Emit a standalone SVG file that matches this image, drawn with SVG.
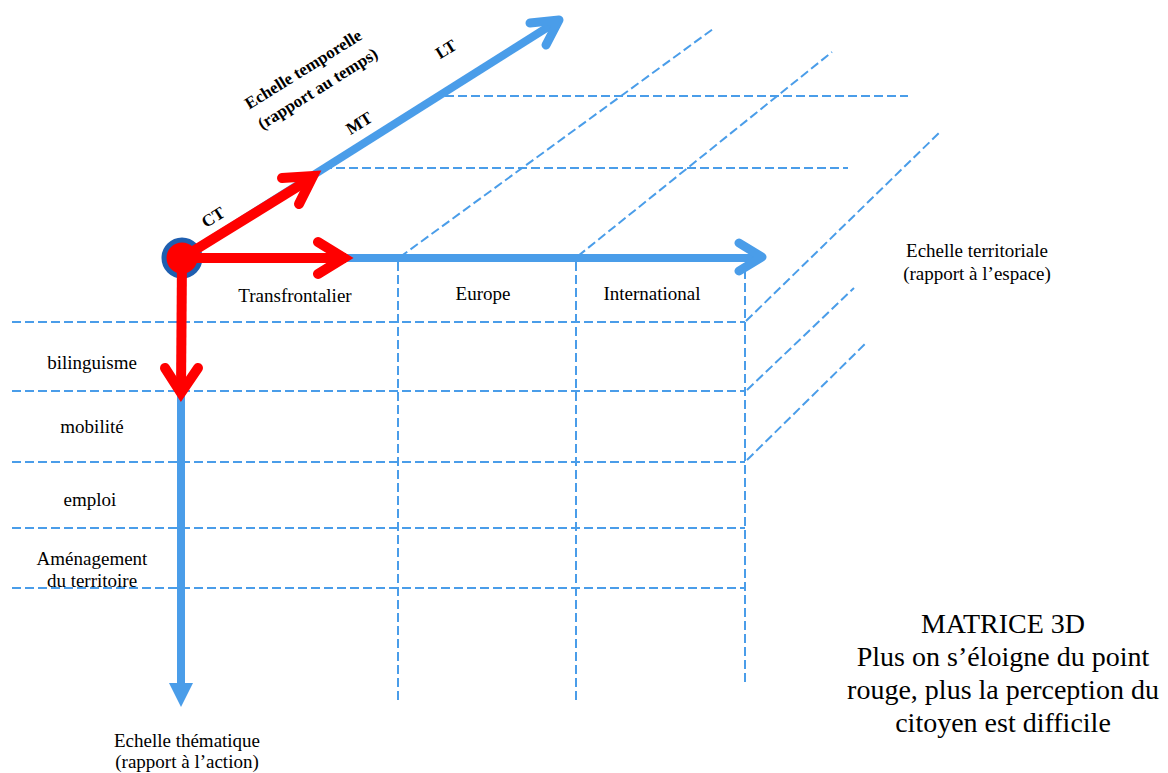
<svg xmlns="http://www.w3.org/2000/svg" width="1168" height="773" viewBox="0 0 1168 773">
<style>
.t{font-family:"Liberation Serif","Times New Roman",serif;font-size:19px;fill:#000;text-anchor:middle}
.b{font-family:"Liberation Serif","Times New Roman",serif;font-weight:bold;font-size:17px;fill:#000;text-anchor:middle}
.big{font-family:"Liberation Serif","Times New Roman",serif;font-size:28px;fill:#000;text-anchor:middle}
.d{stroke:#4a9de9;stroke-width:2;stroke-dasharray:9 4;fill:none}
.ax{stroke:#4a9de9;stroke-width:8;fill:none;stroke-linecap:butt}
.ah{stroke:#4a9de9;stroke-width:9;fill:none;stroke-linecap:round;stroke-linejoin:round}
.r{stroke:#ff0000;stroke-width:10;fill:none}
.rh{stroke:#ff0000;stroke-width:10;fill:none;stroke-linejoin:miter;stroke-miterlimit:10;stroke-linecap:round}
</style>
<rect width="1168" height="773" fill="#fff"/>
<g id="grid">
<line class="d" x1="12" y1="322" x2="745" y2="322"/>
<line class="d" x1="12" y1="391" x2="745" y2="391"/>
<line class="d" x1="12" y1="462" x2="745" y2="462"/>
<line class="d" x1="12" y1="528" x2="745" y2="528"/>
<line class="d" x1="12" y1="588" x2="745" y2="588"/>
<line class="d" x1="398" y1="262" x2="398" y2="700"/>
<line class="d" x1="576" y1="262" x2="576" y2="700"/>
<line class="d" x1="745" y1="270" x2="745" y2="683"/>
<line class="d" x1="445" y1="96" x2="908" y2="96"/>
<line class="d" x1="323" y1="168" x2="848" y2="168"/>
<line class="d" x1="400" y1="257" x2="713" y2="29"/>
<line class="d" x1="578" y1="256" x2="832" y2="52"/>
<line class="d" x1="746" y1="321" x2="940" y2="132"/>
<line class="d" x1="747" y1="390" x2="854" y2="288"/>
<line class="d" x1="747" y1="460" x2="867" y2="342"/>
</g>
<g id="connectors">
<line class="ax" x1="182" y1="258" x2="758" y2="258"/>
<polyline class="ah" points="739,243 762,257 739,271"/>
<line class="ax" x1="182" y1="258" x2="556" y2="22"/>
<polyline class="ah" points="530,23 559,20 546,45"/>
<line class="ax" x1="181" y1="258" x2="181" y2="686"/>
<polygon points="169,683 193,683 181,707" fill="#4a9de9"/>
<circle cx="182" cy="258" r="18" fill="#ff0000" stroke="#1f5fb0" stroke-width="5"/>
<line class="r" x1="182" y1="258" x2="346" y2="258"/>
<polyline class="rh" points="318,242 344,258 318,274"/>
<line class="r" x1="182" y1="258" x2="181" y2="392"/>
<polyline class="rh" points="165,368 181,393 198,368"/>
<line class="r" x1="182" y1="258" x2="310" y2="179"/>
<polyline class="rh" points="282,178 313,176 299,204"/>
</g>
<g id="temporal-labels">
<text class="b" transform="translate(216,222) rotate(-32)">CT</text>
<text class="b" transform="translate(362,128) rotate(-32)">MT</text>
<text class="b" transform="translate(449,54) rotate(-32)">LT</text>
<g transform="translate(303,69) rotate(-32)">
<text class="b" x="0" y="6">Echelle temporelle</text>
<text class="b" x="2" y="30">(rapport au temps)</text>
</g>
</g>
<g id="territorial-labels">
<text class="t" x="295" y="302">Transfrontalier</text>
<text class="t" x="483" y="300">Europe</text>
<text class="t" x="652" y="300">International</text>
<text class="t" x="977" y="257">Echelle territoriale</text>
<text class="t" x="977" y="280">(rapport à l’espace)</text>
</g>
<g id="thematic-labels">
<text class="t" x="92" y="369">bilinguisme</text>
<text class="t" x="92" y="433">mobilité</text>
<text class="t" x="90" y="506">emploi</text>
<text class="t" x="92" y="565">Aménagement</text>
<text class="t" x="92" y="587">du territoire</text>
<text class="t" x="187" y="747">Echelle thématique</text>
<text class="t" x="187" y="768">(rapport à l’action)</text>
</g>
<g id="caption">
<text class="big" x="1003" y="633">MATRICE 3D</text>
<text class="big" x="1003" y="666">Plus on s’éloigne du point</text>
<text class="big" x="1003" y="699">rouge, plus la perception du</text>
<text class="big" x="1003" y="732">citoyen est difficile</text>
</g>
</svg>
